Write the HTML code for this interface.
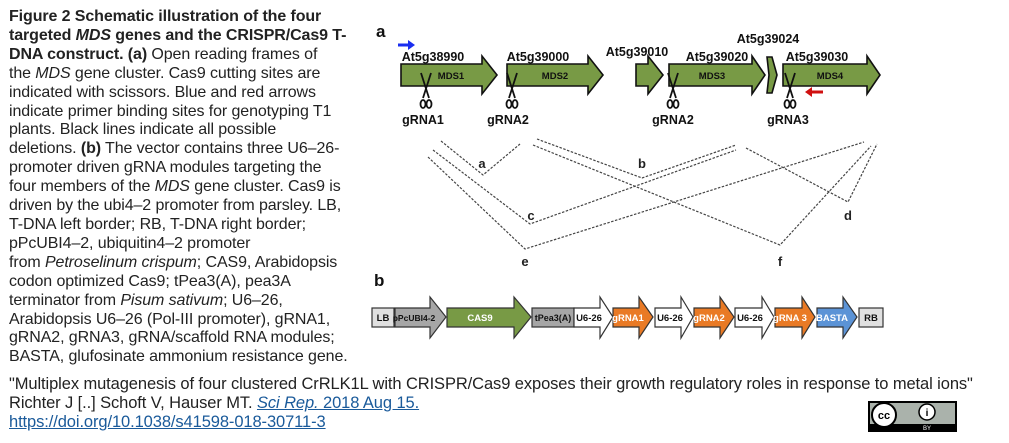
<!DOCTYPE html>
<html><head><meta charset="utf-8"><style>
html,body{margin:0;padding:0;background:#fff;}
body{width:1009px;height:443px;position:relative;overflow:hidden;font-family:"Liberation Sans",Arial,sans-serif;color:#222;}
#cap{position:absolute;left:9px;top:8px;font-size:16px;line-height:18.9px;white-space:nowrap;letter-spacing:-0.1px;}
#foot{position:absolute;left:9px;top:375px;font-size:16.5px;line-height:19px;white-space:nowrap;color:#222;letter-spacing:-0.1px;}
#foot a{color:#1a5a9a;text-decoration:underline;}
svg{position:absolute;left:0;top:0;}
</style></head><body>
<div id="cap"><b>Figure 2 Schematic illustration of the four<br>targeted <i>MDS</i> genes and the CRISPR/Cas9 T-<br>DNA construct. (a)</b> Open reading frames of<br>the <i>MDS</i> gene cluster. Cas9 cutting sites are<br>indicated with scissors. Blue and red arrows<br>indicate primer binding sites for genotyping T1<br>plants. Black lines indicate all possible<br>deletions. <b>(b)</b> The vector contains three U6–26-<br>promoter driven gRNA modules targeting the<br>four members of the <i>MDS</i> gene cluster. Cas9 is<br>driven by the ubi4–2 promoter from parsley. LB,<br>T-DNA left border; RB, T-DNA right border;<br>pPcUBI4–2, ubiquitin4–2 promoter<br>from <i>Petroselinum crispum</i>; CAS9, Arabidopsis<br>codon optimized Cas9; tPea3(A), pea3A<br>terminator from <i>Pisum sativum</i>; U6–26,<br>Arabidopsis U6–26 (Pol-III promoter), gRNA1,<br>gRNA2, gRNA3, gRNA/scaffold RNA modules;<br>BASTA, glufosinate ammonium resistance gene.</div>
<div id="foot">"Multiplex mutagenesis of four clustered CrRLK1L with CRISPR/Cas9 exposes their growth regulatory roles in response to metal ions"<br>Richter J [..] Schoft V, Hauser MT. <a><i>Sci Rep.</i> 2018 Aug 15.</a><br><a>https://doi.org/10.1038/s41598-018-30711-3</a></div>
<svg width="1009" height="443" viewBox="0 0 1009 443" font-family="Liberation Sans,Arial,sans-serif">
<g font-weight="bold" fill="#111">
<text x="376" y="37" font-size="17">a</text>
<text x="374" y="286" font-size="17">b</text>
</g>
<g fill="#789a45" stroke="#111" stroke-width="1.6">
<polygon points="401,64 482,64 482,56 497,75 482,94 482,86 401,86"/>
<polygon points="507,64 588,64 588,56 603,75 588,94 588,86 507,86"/>
<polygon points="636,64 648,64 648,56 663,75 648,94 648,86 636,86"/>
<polygon points="669,64 752,64 752,56 765,75 752,94 752,86 669,86"/>
<polygon points="767,57 772,57 777,75 772,93 767,93 769,75"/>
<polygon points="783,64 867,64 867,56 880,75 867,94 867,86 783,86"/>
</g>
<g font-size="9.5" font-weight="bold" fill="#111" text-anchor="middle">
<text x="451" y="79">MDS1</text><text x="555" y="79">MDS2</text><text x="712" y="79">MDS3</text><text x="830" y="79">MDS4</text>
</g>
<g font-size="12.5" font-weight="bold" fill="#111" text-anchor="middle">
<text x="433" y="61">At5g38990</text><text x="538" y="61">At5g39000</text><text x="637" y="56">At5g39010</text><text x="717" y="61">At5g39020</text><text x="768" y="43">At5g39024</text><text x="817" y="61">At5g39030</text>
<text x="423" y="124">gRNA1</text><text x="508" y="124">gRNA2</text><text x="673" y="124">gRNA2</text><text x="788" y="124">gRNA3</text>
</g>
<g stroke="#111" stroke-width="1.8" fill="none">
<g transform="translate(426,0)"><path d="M-5,73 L3,98 M5,73 L-3,98"/><ellipse cx="-3" cy="104" rx="2.5" ry="4"/><ellipse cx="3" cy="104" rx="2.5" ry="4"/></g>
<g transform="translate(512,0)"><path d="M-5,73 L3,98 M5,73 L-3,98"/><ellipse cx="-3" cy="104" rx="2.5" ry="4"/><ellipse cx="3" cy="104" rx="2.5" ry="4"/></g>
<g transform="translate(673,0)"><path d="M-5,73 L3,98 M5,73 L-3,98"/><ellipse cx="-3" cy="104" rx="2.5" ry="4"/><ellipse cx="3" cy="104" rx="2.5" ry="4"/></g>
<g transform="translate(790,0)"><path d="M-5,73 L3,98 M5,73 L-3,98"/><ellipse cx="-3" cy="104" rx="2.5" ry="4"/><ellipse cx="3" cy="104" rx="2.5" ry="4"/></g>
</g>
<line x1="398" y1="45" x2="410" y2="45" stroke="#1a2ef0" stroke-width="3"/><polygon points="408,40 415,45 408,50" fill="#1a2ef0"/>
<line x1="810" y1="92" x2="823" y2="92" stroke="#d01010" stroke-width="3"/><polygon points="812,87 805,92 812,97" fill="#d01010"/>
<g stroke="#444" stroke-width="1.2" fill="none" stroke-dasharray="2.5,1.5">
<polyline points="441,141 483,175 520,144"/>
<polyline points="537,139 642,178 736,145"/>
<polyline points="433,150 530,224 736,150"/>
<polyline points="746,148 848,202 877,144"/>
<polyline points="428,157 525,249 864,142"/>
<polyline points="533,145 780,245 871,146"/>
</g>
<g font-size="13" font-weight="bold" fill="#222" text-anchor="middle">
<text x="482" y="168">a</text><text x="642" y="168">b</text><text x="531" y="220">c</text><text x="848" y="220">d</text><text x="525" y="266">e</text><text x="780" y="266">f</text>
</g>
<g stroke="#333" stroke-width="1.2">
<rect x="372" y="308" width="22" height="19" fill="#e0e0e0"/>
<polygon points="395,308 430,308 430,297 446,317 430,338 430,327 395,327" fill="#a6a6a6"/>
<polygon points="447,308 514,308 514,297 531,317 514,338 514,327 447,327" fill="#789a45"/>
<rect x="532" y="308" width="42" height="19" fill="#a6a6a6"/>
<polygon points="574,308 600,308 600,297 613,317 600,338 600,327 574,327" fill="#fff"/>
<polygon points="613,308 639,308 639,297 653,317 639,338 639,327 613,327" fill="#e97a25"/>
<polygon points="655,308 681,308 681,297 693,317 681,338 681,327 655,327" fill="#fff"/>
<polygon points="694,308 720,308 720,297 734,317 720,338 720,327 694,327" fill="#e97a25"/>
<polygon points="735,308 762,308 762,297 774,317 762,338 762,327 735,327" fill="#fff"/>
<polygon points="775,308 802,308 802,297 815,317 802,338 802,327 775,327" fill="#e97a25"/>
<polygon points="817,308 843,308 843,297 857,317 843,338 843,327 817,327" fill="#5b93d6"/>
<rect x="859" y="308" width="24" height="19" fill="#e0e0e0"/>
</g>
<g font-size="9.5" font-weight="bold" text-anchor="middle">
<text x="383" y="321" fill="#111">LB</text>
<text x="414" y="321" fill="#111" font-size="8.5">pPcUBI4-2</text>
<text x="480" y="321" fill="#fff">CAS9</text>
<text x="553" y="321" fill="#111" font-size="9">tPea3(A)</text>
<text x="589" y="321" fill="#111">U6-26</text>
<text x="628" y="321" fill="#fff">gRNA1</text>
<text x="670" y="321" fill="#111">U6-26</text>
<text x="709" y="321" fill="#fff">gRNA2</text>
<text x="750" y="321" fill="#111">U6-26</text>
<text x="790" y="321" fill="#fff">gRNA 3</text>
<text x="832" y="321" fill="#fff">BASTA</text>
<text x="871" y="321" fill="#111">RB</text>
</g>
<rect x="868" y="401" width="89" height="31" fill="#000"/>
<rect x="870" y="403" width="85" height="21" fill="#aab2ab"/>
<circle cx="884" cy="415" r="12" fill="#fff" stroke="#000" stroke-width="2"/>
<text x="884" y="419" font-size="11" font-weight="bold" text-anchor="middle" fill="#000">cc</text>
<circle cx="927" cy="412" r="8" fill="#fff" stroke="#000" stroke-width="1.5"/>
<text x="927" y="416" font-size="10" font-weight="bold" text-anchor="middle" fill="#000">i</text>
<text x="927" y="430" font-size="6" text-anchor="middle" fill="#fff">BY</text>
</svg>
</body></html>
